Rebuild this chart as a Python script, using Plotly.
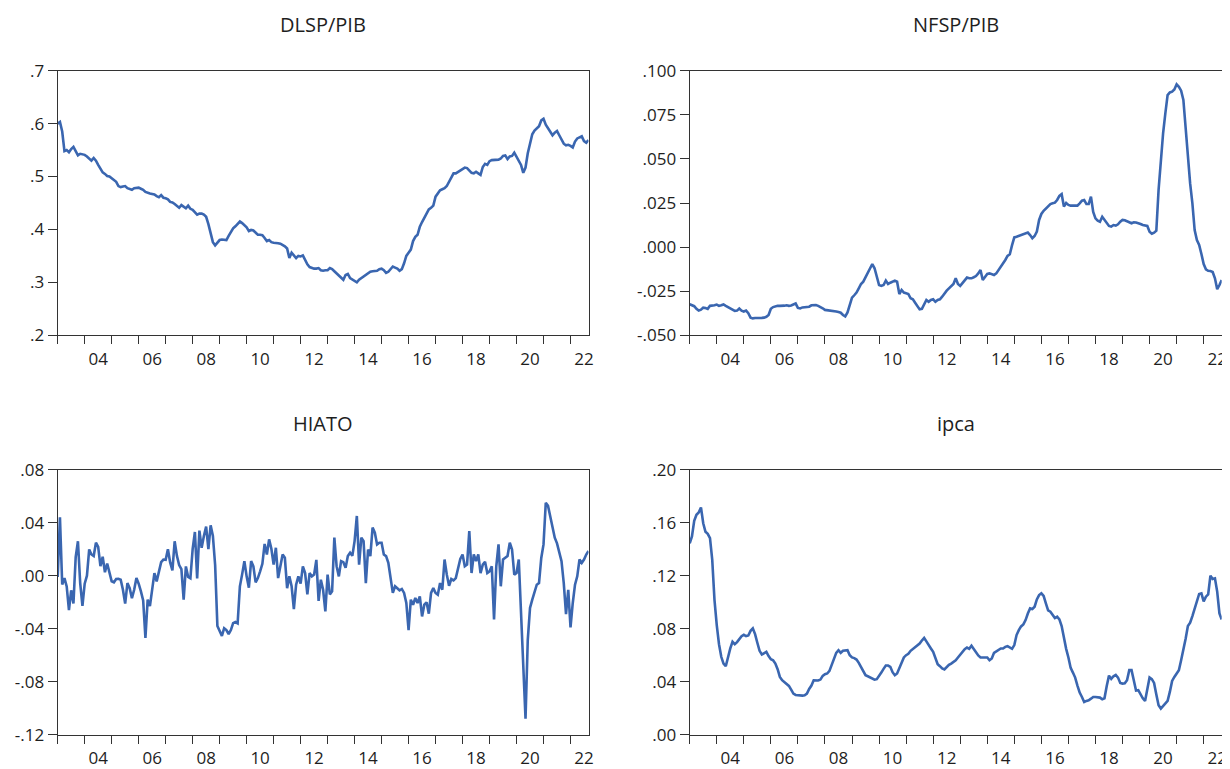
import plotly.graph_objects as go

# ---------------- data (monthly, 2003M01 .. 2022M09) ----------------
start_year = 2003
dlsp_pib = [
    0.600, 0.603, 0.585, 0.548, 0.550, 0.546, 0.552, 0.556, 0.548, 0.540, 0.543, 0.542,
    0.541, 0.538, 0.533, 0.530, 0.535, 0.530, 0.522, 0.515, 0.508, 0.505, 0.501, 0.500,
    0.497, 0.494, 0.490, 0.482, 0.480, 0.481, 0.482, 0.478, 0.476, 0.475, 0.478, 0.479,
    0.479, 0.477, 0.475, 0.471, 0.469, 0.468, 0.467, 0.466, 0.463, 0.461, 0.465, 0.460,
    0.459, 0.457, 0.452, 0.451, 0.448, 0.445, 0.441, 0.446, 0.443, 0.440, 0.445, 0.439,
    0.437, 0.432, 0.428, 0.430, 0.430, 0.428, 0.424, 0.410, 0.392, 0.376, 0.370, 0.376,
    0.380, 0.381, 0.381, 0.380, 0.388, 0.396, 0.402, 0.406, 0.410, 0.415, 0.412, 0.408,
    0.404, 0.397, 0.399, 0.398, 0.393, 0.390, 0.390, 0.389, 0.384, 0.378, 0.380, 0.376,
    0.375, 0.375, 0.374, 0.373, 0.371, 0.368, 0.364, 0.346, 0.356, 0.350, 0.346, 0.350,
    0.349, 0.351, 0.342, 0.334, 0.329, 0.327, 0.326, 0.326, 0.327, 0.323, 0.322, 0.323,
    0.323, 0.327, 0.325, 0.321, 0.317, 0.312, 0.308, 0.305, 0.314, 0.316, 0.308, 0.305,
    0.302, 0.300, 0.305, 0.308, 0.310, 0.313, 0.316, 0.320, 0.321, 0.322, 0.322, 0.325,
    0.326, 0.323, 0.318, 0.320, 0.325, 0.330, 0.328, 0.326, 0.322, 0.325, 0.336, 0.350,
    0.356, 0.362, 0.378, 0.386, 0.390, 0.405, 0.414, 0.423, 0.432, 0.438, 0.441, 0.445,
    0.462, 0.467, 0.474, 0.476, 0.478, 0.482, 0.490, 0.497, 0.506, 0.506, 0.509, 0.512,
    0.515, 0.517, 0.516, 0.512, 0.507, 0.506, 0.509, 0.506, 0.503, 0.518, 0.524, 0.522,
    0.529, 0.531, 0.531, 0.531, 0.532, 0.534, 0.539, 0.540, 0.533, 0.538, 0.539, 0.545,
    0.537, 0.530, 0.522, 0.507, 0.517, 0.544, 0.565, 0.580, 0.587, 0.591, 0.595, 0.606,
    0.609, 0.598, 0.592, 0.585, 0.578, 0.583, 0.586, 0.578, 0.570, 0.562, 0.559, 0.560,
    0.558, 0.555, 0.566, 0.572, 0.574, 0.576, 0.567, 0.564, 0.569,
]
nfsp_pib = [
    -0.0324, -0.0328, -0.0335, -0.0350, -0.0360, -0.0355, -0.0343, -0.0345, -0.0350, -0.0333, -0.0333, -0.0330,
    -0.0326, -0.0333, -0.0330, -0.0325, -0.0333, -0.0340, -0.0350, -0.0357, -0.0362, -0.0360, -0.0348, -0.0360,
    -0.0365, -0.0360, -0.0375, -0.0400, -0.0404, -0.0402, -0.0403, -0.0402, -0.0401, -0.0400, -0.0395, -0.0385,
    -0.0350, -0.0340, -0.0335, -0.0333, -0.0333, -0.0334, -0.0332, -0.0330, -0.0333, -0.0331, -0.0327, -0.0320,
    -0.0345, -0.0348, -0.0342, -0.0340, -0.0342, -0.0338, -0.0330, -0.0327, -0.0328, -0.0333, -0.0338, -0.0347,
    -0.0356, -0.0357, -0.0358, -0.0360, -0.0362, -0.0365, -0.0368, -0.0372, -0.0385, -0.0393, -0.0370, -0.0334,
    -0.0287, -0.0273, -0.0258, -0.0234, -0.0209, -0.0196, -0.0173, -0.0149, -0.0120, -0.0096, -0.0120, -0.0177,
    -0.0215, -0.0220, -0.0215, -0.0190, -0.0209, -0.0202, -0.0196, -0.0190, -0.0196, -0.0266, -0.0243, -0.0258,
    -0.0262, -0.0266, -0.0290, -0.0296, -0.0315, -0.0338, -0.0353, -0.0350, -0.0320, -0.0300, -0.0310, -0.0300,
    -0.0296, -0.0310, -0.0300, -0.0296, -0.0281, -0.0262, -0.0247, -0.0234, -0.0224, -0.0209, -0.0177, -0.0209,
    -0.0220, -0.0202, -0.0187, -0.0173, -0.0177, -0.0177, -0.0171, -0.0164, -0.0149, -0.0130, -0.0187, -0.0171,
    -0.0152, -0.0149, -0.0152, -0.0158, -0.0149, -0.0130, -0.0115, -0.0096, -0.0073, -0.0050, -0.0041, 0.0011,
    0.0055, 0.0059, 0.0063, 0.0068, 0.0074, 0.0078, 0.0082, 0.0068, 0.0050, 0.0063, 0.0088, 0.0154,
    0.0188, 0.0206, 0.0220, 0.0233, 0.0244, 0.0248, 0.0252, 0.0267, 0.0290, 0.0300, 0.0230, 0.0250,
    0.0239, 0.0235, 0.0235, 0.0233, 0.0235, 0.0248, 0.0263, 0.0267, 0.0244, 0.0244, 0.0286, 0.0200,
    0.0163, 0.0150, 0.0144, 0.0172, 0.0154, 0.0135, 0.0120, 0.0116, 0.0125, 0.0122, 0.0129, 0.0144,
    0.0154, 0.0152, 0.0148, 0.0141, 0.0135, 0.0141, 0.0139, 0.0137, 0.0131, 0.0125, 0.0124, 0.0120,
    0.0087, 0.0076, 0.0082, 0.0093, 0.0324, 0.0494, 0.0645, 0.0758, 0.0862, 0.0877, 0.0881, 0.0894,
    0.0923, 0.0909, 0.0887, 0.0834, 0.0664, 0.0475, 0.0361, 0.0248, 0.0097, 0.0040, 0.0012, -0.0039,
    -0.0096, -0.0126, -0.0134, -0.0136, -0.0141, -0.0177, -0.0239, -0.0215, -0.0187,
]
hiato = [
    -0.0010, 0.0440, -0.0067, -0.0018, -0.0081, -0.0260, -0.0110, -0.0210, 0.0140, 0.0260, -0.0056, -0.0227,
    -0.0060, 0.0000, 0.0198, 0.0160, 0.0148, 0.0249, 0.0218, 0.0072, 0.0143, 0.0026, 0.0092, 0.0033,
    -0.0042, -0.0050, -0.0025, -0.0023, -0.0030, -0.0106, -0.0210, -0.0056, -0.0094, -0.0170, -0.0106, -0.0018,
    -0.0060, -0.0118, -0.0186, -0.0470, -0.0180, -0.0230, -0.0120, 0.0020, -0.0043, 0.0033, 0.0102, 0.0122,
    0.0120, 0.0200, 0.0100, 0.0040, 0.0260, 0.0150, 0.0080, 0.0050, -0.0180, 0.0070, -0.0010, -0.0020,
    0.0200, 0.0330, -0.0020, 0.0340, 0.0210, 0.0300, 0.0370, 0.0200, 0.0380, 0.0300, 0.0080, -0.0380,
    -0.0420, -0.0454, -0.0396, -0.0410, -0.0440, -0.0410, -0.0358, -0.0350, -0.0360, -0.0080, 0.0010, 0.0110,
    -0.0005, -0.0090, 0.0110, 0.0071, -0.0050, -0.0018, 0.0033, 0.0090, 0.0240, 0.0160, 0.0274, 0.0203,
    0.0084, 0.0211, -0.0018, 0.0071, 0.0160, 0.0135, -0.0094, -0.0005, -0.0080, -0.0252, -0.0068, -0.0005,
    -0.0060, 0.0070, 0.0020, -0.0140, 0.0020, -0.0005, 0.0008, 0.0119, -0.0190, -0.0030, -0.0106, -0.0270,
    0.0008, -0.0141, -0.0118, 0.0287, 0.0072, -0.0005, 0.0110, 0.0102, 0.0059, 0.0148, 0.0173, 0.0150,
    0.0261, 0.0451, 0.0084, 0.0287, 0.0261, -0.0056, 0.0198, 0.0148, 0.0363, 0.0325, 0.0236, 0.0249,
    0.0249, 0.0160, 0.0148, 0.0097, -0.0030, -0.0130, -0.0080, -0.0094, -0.0110, -0.0100, -0.0130, -0.0206,
    -0.0410, -0.0181, -0.0219, -0.0168, -0.0206, -0.0156, -0.0307, -0.0219, -0.0201, -0.0287, -0.0130, -0.0094,
    -0.0130, -0.0143, -0.0056, -0.0106, 0.0122, 0.0008, -0.0076, -0.0025, -0.0035, -0.0018, 0.0066, 0.0127,
    0.0160, 0.0072, 0.0084, 0.0337, 0.0020, 0.0160, 0.0110, 0.0160, 0.0020, 0.0084, 0.0105, 0.0020,
    0.0033, 0.0071, -0.0330, 0.0071, 0.0236, -0.0080, 0.0122, 0.0134, 0.0148, 0.0249, 0.0198, 0.0008,
    0.0020, 0.0122, -0.0257, -0.0712, -0.1080, -0.0484, -0.0244, -0.0180, -0.0130, -0.0068, -0.0056, 0.0134,
    0.0236, 0.0550, 0.0527, 0.0451, 0.0350, 0.0287, 0.0244, 0.0186, 0.0110, -0.0056, -0.0290, -0.0106,
    -0.0390, -0.0206, -0.0068, -0.0005, 0.0122, 0.0097, 0.0122, 0.0160, 0.0186,
]
ipca = [
    0.1445, 0.1496, 0.1614, 0.1660, 0.1677, 0.1715, 0.1596, 0.1531, 0.1516, 0.1483, 0.1319, 0.1016,
    0.0827, 0.0683, 0.0588, 0.0537, 0.0517, 0.0588, 0.0651, 0.0701, 0.0683, 0.0699, 0.0719, 0.0744,
    0.0754, 0.0744, 0.0749, 0.0784, 0.0802, 0.0759, 0.0694, 0.0633, 0.0605, 0.0618, 0.0625, 0.0593,
    0.0570, 0.0562, 0.0537, 0.0494, 0.0436, 0.0411, 0.0396, 0.0386, 0.0368, 0.0340, 0.0310, 0.0300,
    0.0298, 0.0298, 0.0295, 0.0298, 0.0310, 0.0345, 0.0371, 0.0411, 0.0411, 0.0409, 0.0416, 0.0444,
    0.0456, 0.0462, 0.0482, 0.0525, 0.0583, 0.0618, 0.0638, 0.0618, 0.0633, 0.0638, 0.0638, 0.0600,
    0.0583, 0.0578, 0.0567, 0.0542, 0.0512, 0.0487, 0.0449, 0.0441, 0.0431, 0.0424, 0.0416, 0.0419,
    0.0441, 0.0469, 0.0497, 0.0522, 0.0522, 0.0512, 0.0472, 0.0449, 0.0462, 0.0507, 0.0552, 0.0583,
    0.0600, 0.0610, 0.0633, 0.0646, 0.0661, 0.0676, 0.0688, 0.0711, 0.0731, 0.0704, 0.0673, 0.0651,
    0.0625, 0.0575, 0.0532, 0.0517, 0.0500, 0.0492, 0.0512, 0.0527, 0.0537, 0.0550, 0.0562, 0.0583,
    0.0605, 0.0628, 0.0646, 0.0658, 0.0648, 0.0671, 0.0646, 0.0618, 0.0598, 0.0583, 0.0583, 0.0588,
    0.0583, 0.0562, 0.0575, 0.0618, 0.0630, 0.0643, 0.0651, 0.0651, 0.0663, 0.0668, 0.0656, 0.0648,
    0.0676, 0.0752, 0.0789, 0.0817, 0.0832, 0.0865, 0.0915, 0.0953, 0.0948, 0.0966, 0.1021, 0.1054,
    0.1067, 0.1047, 0.0991, 0.0938, 0.0928, 0.0903, 0.0880, 0.0890, 0.0870, 0.0820, 0.0731, 0.0648,
    0.0583, 0.0504, 0.0469, 0.0431, 0.0371, 0.0318, 0.0285, 0.0247, 0.0255, 0.0260, 0.0272, 0.0285,
    0.0285, 0.0280, 0.0280, 0.0267, 0.0275, 0.0368, 0.0446, 0.0421, 0.0441, 0.0451, 0.0431, 0.0391,
    0.0386, 0.0388, 0.0411, 0.0487, 0.0487, 0.0411, 0.0333, 0.0336, 0.0305, 0.0275, 0.0255, 0.0353,
    0.0431, 0.0419, 0.0391, 0.0303, 0.0222, 0.0197, 0.0217, 0.0234, 0.0255, 0.0323, 0.0406, 0.0436,
    0.0459, 0.0487, 0.0562, 0.0633, 0.0724, 0.0820, 0.0845, 0.0895, 0.0953, 0.1016, 0.1062, 0.1067,
    0.1006, 0.1042, 0.1059, 0.1200, 0.1175, 0.1180, 0.1080, 0.0915, 0.0870,
]

titles = ["DLSP/PIB", "NFSP/PIB", "HIATO", "ipca"]
x_label_years = list(range(2004, 2023, 2))
x_tick_text = [f"{y % 100:02d}" for y in x_label_years]

y_ticks = {
    "DLSP/PIB": ([0.2, 0.3, 0.4, 0.5, 0.6, 0.7], [".2", ".3", ".4", ".5", ".6", ".7"]),
    "NFSP/PIB": ([-0.05, -0.025, 0.0, 0.025, 0.05, 0.075, 0.1],
                 ["-.050", "-.025", ".000", ".025", ".050", ".075", ".100"]),
    "HIATO": ([-0.12, -0.08, -0.04, 0.0, 0.04, 0.08], ["-.12", "-.08", "-.04", ".00", ".04", ".08"]),
    "ipca": ([0.0, 0.04, 0.08, 0.12, 0.16, 0.20], [".00", ".04", ".08", ".12", ".16", ".20"]),
}

series = [dlsp_pib, nfsp_pib, hiato, ipca]

# ---------------- figure ----------------
OFF = 8                      # page body margin
W, H = 1230 - OFF, 769 - OFF
FONT = "'Open Sans', Lato, sans-serif"
LINE_BLUE = "#3A66B0"
AXIS_COL = "#333333"
TXT = "#1e1e1e"

# panel pixel boxes in the page: (left, right, top, bottom)
boxes = [
    (57.7, 588.5, 70.7, 335.3),
    (689.7, 1221.7, 70.7, 335.3),
    (57.7, 588.5, 469.7, 734.7),
    (689.7, 1221.7, 469.7, 734.7),
]

fig = go.Figure()
layout = dict(
    width=W, height=H,
    margin=dict(l=0, r=0, t=0, b=0, autoexpand=False),
    paper_bgcolor="white", plot_bgcolor="white",
    showlegend=False,
    font=dict(family=FONT, size=16, color=TXT),
    annotations=[],
)

for k, (name, vals) in enumerate(zip(titles, series)):
    n = len(vals)
    xs = [start_year + i / 12 for i in range(n)]
    sfx = "" if k == 0 else str(k + 1)
    fig.add_trace(go.Scatter(
        x=xs, y=vals, mode="lines",
        line=dict(color=LINE_BLUE, width=2.6),
        xaxis="x" + sfx, yaxis="y" + sfx, hoverinfo="skip",
    ))
    l, r, t, b = [v - OFF for v in boxes[k]]
    tv, tt = y_ticks[name]
    layout["xaxis" + sfx] = dict(
        domain=[l / W, r / W], anchor="y" + sfx,
        range=[start_year, start_year + (n - 1) / 12],
        tickmode="array", tickvals=[y + 0.5 for y in x_label_years], ticktext=x_tick_text,
        ticks="outside", ticklen=8, tickcolor="rgba(0,0,0,0)",
        minor=dict(tickmode="linear", tick0=2003, dtick=1, ticks="outside",
                   ticklen=8, tickwidth=1, tickcolor=AXIS_COL, showgrid=False),
        showline=True, linecolor=AXIS_COL, linewidth=1.2, mirror=True,
        showgrid=False, zeroline=False, automargin=False,
        tickfont=dict(family=FONT, size=17, color=TXT),
    )
    layout["yaxis" + sfx] = dict(
        domain=[1 - b / H, 1 - t / H], anchor="x" + sfx,
        range=[tv[0], tv[-1]],
        tickmode="array", tickvals=tv, ticktext=tt,
        ticks="outside", ticklen=9, tickwidth=1, tickcolor=AXIS_COL,
        showline=True, linecolor=AXIS_COL, linewidth=1.2, mirror=True,
        showgrid=False, zeroline=False, automargin=False,
        tickfont=dict(family=FONT, size=17, color=TXT),
    )
    layout["annotations"].append(dict(
        text=name, xref="paper", yref="paper",
        x=(l + r) / 2 / W, y=1 - (t - 46) / H,
        xanchor="center", yanchor="middle", showarrow=False,
        font=dict(family=FONT, size=20, color=TXT),
    ))

fig.update_layout(**layout)
fig.write_html("out.html")
